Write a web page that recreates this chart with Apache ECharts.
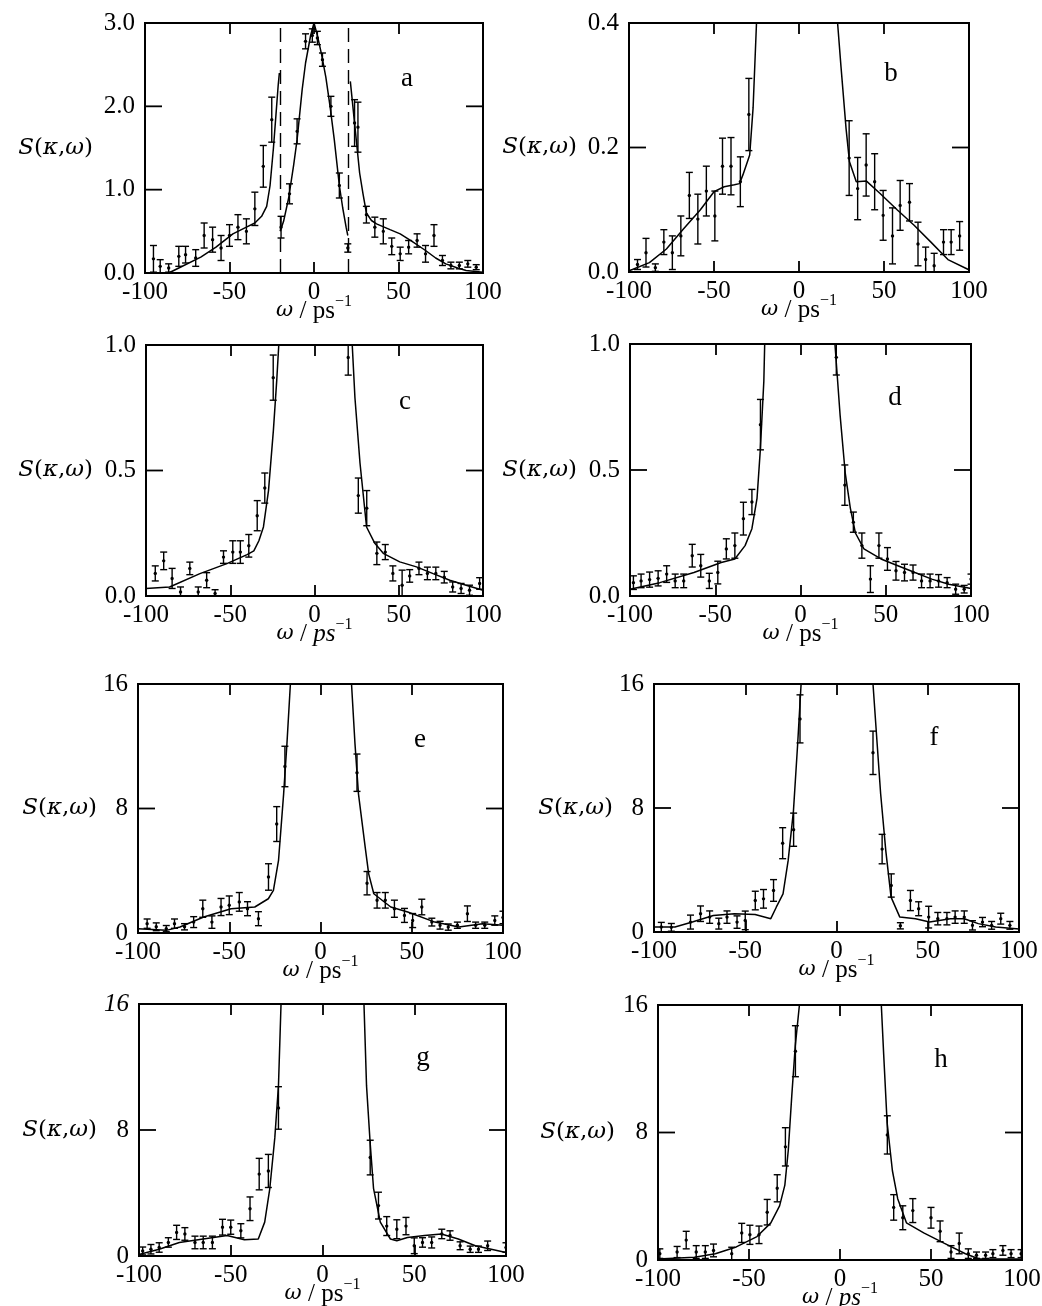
<!DOCTYPE html>
<html><head><meta charset="utf-8">
<script src="https://cdn.jsdelivr.net/npm/echarts@6/dist/echarts.min.js"></script>
<style>html,body{margin:0;padding:0;background:#fff}#c{width:1042px;height:1306px}</style>
</head><body><div id="c"></div>
<script>
// ---------- data (x = ω in ps^-1, y = S(κ,ω)); bars are [x, y, halfError] ----------
const xTicks = [-100, -50, 0, 50, 100];
const panelLetters = ['a','b','c','d','e','f','g','h'];
const yMax = [3, 0.4, 1, 1, 16, 16, 16, 16];
const yStep = [1, 0.2, 0.5, 0.5, 8, 8, 8, 8];
const yDecimals = [1, 1, 1, 1, 0, 0, 0, 0];

const aWingL = [[-86,0],[-80,0.06],[-67,0.19],[-58,0.31],[-48,0.47],[-40,0.55],[-35,0.6],[-31,0.68],[-28,0.8],[-26,1.05],[-24,1.5],[-22.5,1.9],[-21.2,2.25],[-20.5,2.4]];
const aCenter = [[-20,0.5],[-18,0.62],[-15,0.9],[-12,1.3],[-10,1.6],[-7,2.2],[-5,2.52],[-2,2.85],[0,3.0],[2,2.85],[4.5,2.62],[7,2.35],[9.5,2.0],[12,1.6],[15,1.05],[17,0.78],[19,0.55],[20,0.45]];
const aWingR = [[21.5,2.3],[23,2.0],[25,1.6],[27,1.2],[29,0.95],[31,0.72],[34,0.63],[37,0.59],[45,0.52],[51,0.47],[58,0.38],[66,0.27],[72,0.18],[78,0.11],[85,0.06],[90,0.03],[100,0.01]];
const aDashX = [-20, 20];
const aBars = [[-95,0.17,0.16],[-91,0.08,0.08],[-86,0.06,0.05],[-80,0.2,0.12],[-76,0.22,0.1],[-70,0.18,0.1],[-65,0.45,0.15],[-60,0.4,0.15],[-55,0.3,0.15],[-50,0.45,0.13],[-45,0.55,0.15],[-40,0.5,0.15],[-35,0.77,0.2],[-30,1.28,0.25],[-25,1.84,0.27],[-19.5,0.55,0.13],[-14.5,0.95,0.12],[-10,1.7,0.15],[-5,2.78,0.09],[-1,2.85,0.08],[2,2.82,0.08],[5,2.56,0.08],[10,2.0,0.12],[15,1.05,0.15],[20,0.3,0.05],[24,1.8,0.28],[26,1.75,0.3],[31,0.7,0.1],[36,0.55,0.12],[41,0.5,0.15],[46,0.32,0.1],[51,0.23,0.08],[56,0.31,0.08],[61,0.39,0.08],[66,0.23,0.1],[71,0.45,0.13],[76,0.15,0.06],[81,0.09,0.04],[86,0.09,0.04],[91,0.11,0.04],[96,0.07,0.03]];

const bCurveL = [[-100,0.002],[-98,0.004],[-88,0.015],[-78,0.037],[-68,0.069],[-58,0.10],[-50,0.129],[-44,0.137],[-38,0.14],[-35,0.142],[-33,0.156],[-29,0.188],[-27,0.264],[-25,0.4],[-24,0.5]];
const bCurveR = [[22,0.5],[22.7,0.4],[24.7,0.33],[27.7,0.23],[29.7,0.177],[33.7,0.145],[39.7,0.146],[47.7,0.126],[57.7,0.1],[67.7,0.075],[77.6,0.048],[87.6,0.02],[99.6,0.004]];
const bBars = [[-95,0.012,0.008],[-90,0.031,0.023],[-84.5,0.007,0.006],[-79.5,0.048,0.02],[-74.5,0.031,0.027],[-69.5,0.058,0.032],[-64.5,0.123,0.037],[-59.5,0.085,0.04],[-54.5,0.13,0.04],[-49.5,0.09,0.04],[-45,0.17,0.045],[-40,0.17,0.046],[-34.5,0.145,0.04],[-29.5,0.253,0.058],[29.5,0.183,0.06],[34.5,0.134,0.05],[39.5,0.172,0.05],[44.5,0.145,0.045],[49.5,0.091,0.04],[55,0.058,0.045],[59.5,0.107,0.04],[65,0.112,0.03],[70,0.045,0.035],[74.5,0.02,0.02],[79.5,0.01,0.02],[85,0.048,0.02],[89.5,0.048,0.02],[94.5,0.058,0.023]];

const cCurveL = [[-100,0.03],[-86,0.036],[-68,0.089],[-52,0.129],[-40,0.165],[-36,0.18],[-33,0.22],[-30.3,0.275],[-27.3,0.42],[-24.4,0.66],[-22.4,0.86],[-21.2,1.0],[-20.5,1.1]];
const cCurveR = [[21.5,1.1],[22.4,1.0],[24,0.79],[27,0.53],[30.9,0.275],[35.8,0.21],[40.8,0.17],[50.6,0.136],[60.5,0.116],[70.4,0.089],[80.3,0.063],[90,0.043],[100,0.023]];
const cBars = [[-94.5,0.09,0.03],[-89.5,0.14,0.035],[-84.5,0.07,0.04],[-79.5,0.016,0.02],[-74,0.11,0.025],[-69,0.016,0.02],[-64,0.063,0.03],[-59,0.01,0.015],[-54,0.155,0.025],[-48.5,0.175,0.045],[-44,0.175,0.045],[-39,0.2,0.045],[-34,0.32,0.06],[-29.5,0.43,0.06],[-24.5,0.87,0.09],[20,0.95,0.07],[26,0.4,0.07],[31,0.35,0.07],[37,0.17,0.045],[42,0.175,0.03],[46.5,0.09,0.03],[52,0.043,0.06],[56.5,0.08,0.025],[62,0.11,0.025],[67,0.09,0.025],[72,0.09,0.025],[77,0.075,0.023],[82,0.036,0.02],[87,0.03,0.02],[92,0.023,0.02],[98,0.05,0.023]];

const dCurveL = [[-100,0.027],[-82.5,0.053],[-62.5,0.093],[-46.5,0.133],[-38.5,0.147],[-32.5,0.2],[-28.5,0.267],[-25.5,0.387],[-23.5,0.587],[-21.5,0.853],[-21,1.0],[-20.5,1.1]];
const dCurveR = [[19.8,1.1],[20.2,1.0],[23.2,0.72],[26.2,0.49],[29.2,0.35],[32.2,0.25],[37.2,0.187],[47.2,0.147],[57.1,0.12],[67.1,0.093],[77,0.067],[87,0.047],[100,0.03]];
const dBars = [[-98,0.053,0.027],[-93.5,0.06,0.027],[-88.5,0.065,0.03],[-83.5,0.07,0.03],[-78.5,0.087,0.033],[-73.5,0.06,0.027],[-68.5,0.06,0.027],[-63.5,0.16,0.045],[-58.5,0.12,0.045],[-53.5,0.06,0.03],[-48.5,0.093,0.045],[-43.5,0.187,0.04],[-38.5,0.2,0.05],[-33.5,0.307,0.065],[-28.5,0.373,0.05],[-23.5,0.68,0.1],[21,0.947,0.07],[26,0.44,0.08],[31,0.293,0.04],[36,0.2,0.05],[41,0.067,0.053],[46,0.2,0.05],[51,0.147,0.045],[56,0.1,0.037],[61,0.093,0.033],[66,0.093,0.03],[71,0.06,0.027],[76,0.06,0.027],[81,0.06,0.025],[86,0.053,0.02],[91,0.027,0.02],[96,0.027,0.015],[100,0.067,0.02]];

const eCurveL = [[-100,0.28],[-84.5,0.17],[-77,0.385],[-64,1.03],[-49,1.56],[-36,1.67],[-28.6,2.2],[-25.8,2.74],[-23,4.66],[-20.2,8.94],[-18.4,12.15],[-16.5,16],[-16,17]];
const eCurveR = [[16.5,17],[17,16],[18.9,12.15],[20.8,8.94],[24.5,5.5],[26.4,3.8],[29.2,2.52],[38.5,1.67],[47.8,1.35],[62.7,0.7],[75.8,0.385],[88.8,0.6],[100,0.5]];
const eBars = [[-95,0.6,0.3],[-90,0.4,0.25],[-84.5,0.28,0.2],[-80,0.6,0.3],[-74.5,0.4,0.2],[-69.5,0.7,0.35],[-64.5,1.56,0.55],[-59.5,0.7,0.4],[-54.5,1.67,0.55],[-50,1.78,0.6],[-44.5,2.0,0.6],[-40,1.56,0.45],[-34,0.92,0.45],[-28.5,3.6,0.85],[-24,7.0,1.12],[-19.5,10.7,1.3],[20,10.3,1.2],[25.5,3.2,0.75],[31,2.1,0.5],[35.5,2.1,0.5],[40.5,1.56,0.55],[46,1.13,0.45],[50.5,0.8,0.45],[55.5,1.67,0.5],[61,0.7,0.25],[65.5,0.5,0.25],[70,0.38,0.2],[75,0.5,0.2],[80.5,1.24,0.5],[85,0.5,0.2],[90,0.5,0.2],[95.5,0.8,0.3],[100,1.0,0.4]];

const fCurveL = [[-100,0.32],[-88.5,0.32],[-79,0.64],[-67.5,1.07],[-56,1.18],[-44.6,1.13],[-36,0.86],[-33,1.6],[-29.3,2.46],[-26.5,4.6],[-23.6,7.8],[-21.3,12.1],[-19.4,16],[-19,17]];
const fCurveR = [[19.7,17],[20,16],[22.3,12.1],[24.2,8.9],[27,5.25],[29.9,2.25],[34.7,0.96],[43.3,0.86],[51,0.64],[62.4,0.86],[70,0.86],[77.7,0.54],[87.2,0.32],[100,0.2]];
const fBars = [[-96,0.32,0.3],[-90.5,0.3,0.25],[-80,0.64,0.45],[-74.5,1.18,0.5],[-69.5,0.96,0.4],[-64.5,0.54,0.35],[-60,0.96,0.4],[-54.5,0.64,0.4],[-50,0.75,0.6],[-44.5,2.03,0.6],[-40,2.14,0.6],[-34.5,2.68,0.7],[-29.5,5.73,1.0],[-23.5,6.6,1.07],[-20,13.75,1.55],[20,11.56,1.4],[25,5.35,0.95],[30,3.0,0.75],[35,0.4,0.2],[40.5,2.03,0.65],[45,1.5,0.45],[50.5,0.96,0.7],[55.5,0.86,0.4],[60.5,0.86,0.4],[65,0.96,0.4],[70,0.96,0.4],[74.5,0.43,0.3],[80,0.64,0.3],[85,0.43,0.25],[90,0.86,0.35],[95,0.43,0.25]];

const gCurveL = [[-100,0.1],[-89,0.43],[-78,0.86],[-65,1.08],[-52,1.3],[-42.6,1.03],[-35,1.08],[-31.5,2.15],[-28.7,4.3],[-26,7.5],[-24,10.8],[-22.6,16],[-22.3,17]];
const gCurveR = [[22.3,17],[22.6,16],[24,10.8],[25.9,7.3],[27.8,4.3],[31.5,2.15],[37,1.08],[40.5,0.97],[46.3,1.18],[55.6,1.3],[64.8,1.4],[74,1.08],[83.3,0.65],[100,0.22]];
const gBars = [[-98,0.32,0.25],[-93.5,0.43,0.3],[-89,0.54,0.3],[-84,0.86,0.3],[-79.5,1.5,0.45],[-75,1.4,0.4],[-69.5,0.86,0.4],[-65,0.86,0.4],[-60,0.86,0.4],[-54.5,1.83,0.5],[-50,1.83,0.45],[-44.5,1.6,0.45],[-39.5,3.0,0.75],[-34.5,5.2,1.0],[-29.5,5.4,1.05],[-24,9.4,1.35],[26,6.25,1.1],[30.5,3.2,0.85],[35,1.9,0.6],[40.5,1.7,0.6],[45.5,1.9,0.55],[50,0.65,0.5],[54.5,0.86,0.3],[59.5,0.86,0.35],[65,1.4,0.3],[69.5,1.3,0.3],[75,0.65,0.25],[80.5,0.43,0.2],[85,0.43,0.2],[90,0.65,0.3],[100,0.54,0.3]];

const hCurveL = [[-100,0.06],[-80,0.17],[-68.5,0.39],[-57,0.82],[-45.6,1.47],[-38,2.33],[-33.2,3.4],[-30.3,4.7],[-28.4,6.9],[-26.5,10.3],[-24.6,13.4],[-22.3,16],[-22,17]];
const hCurveR = [[22.5,17],[22.7,16],[24,12.9],[25.9,8.6],[28.8,5.6],[31.7,3.85],[36.5,2.33],[46,1.7],[57.4,1.04],[68.9,0.39],[76.5,0.06],[100,0.06]];
const hBars = [[-99,0.4,0.3],[-89.5,0.5,0.35],[-84.5,1.25,0.55],[-79,0.5,0.4],[-74,0.5,0.4],[-69.5,0.6,0.4],[-59.5,0.4,0.4],[-54,1.7,0.6],[-49.5,1.58,0.6],[-44.5,1.58,0.55],[-40,3.0,0.8],[-34.5,4.5,0.85],[-30,7.1,1.2],[-24.5,13.1,1.6],[26,7.85,1.2],[29.5,3.3,0.8],[34.5,2.65,0.75],[40,3.1,0.75],[50,2.65,0.65],[55,1.8,0.65],[61,0.5,0.4],[65.5,1.04,0.65],[70.5,0.4,0.3],[75,0.3,0.2],[80,0.3,0.2],[84,0.4,0.25],[89.5,0.6,0.3],[94,0.4,0.25],[99.5,0.4,0.25]];

const panelCurves = [[aWingL,aCenter,aWingR],[bCurveL,bCurveR],[cCurveL,cCurveR],[dCurveL,dCurveR],[eCurveL,eCurveR],[fCurveL,fCurveR],[gCurveL,gCurveR],[hCurveL,hCurveR]];
const panelBars = [aBars,bBars,cBars,dBars,eBars,fBars,gBars,hBars];

// ---------- layout (pixels) ----------
const layout = [
  {left:145, top:23,  width:338, height:250, nameGap:52, letter:[407,79],  psItalic:false, topItalic:false},
  {left:629, top:23,  width:340, height:249, nameGap:52, letter:[891,74],  psItalic:false, topItalic:false},
  {left:146, top:345, width:337, height:251, nameGap:53, letter:[405,402], psItalic:true,  topItalic:false},
  {left:630, top:344, width:341, height:252, nameGap:53, letter:[895,398], psItalic:false, topItalic:false},
  {left:138, top:684, width:365, height:249, nameGap:41, letter:[420,740], psItalic:false, topItalic:false},
  {left:654, top:684, width:365, height:248, nameGap:41, letter:[934,738], psItalic:false, topItalic:false},
  {left:139, top:1004,width:367, height:252, nameGap:42, letter:[423,1058],psItalic:false, topItalic:true},
  {left:658, top:1005,width:364, height:255, nameGap:43, letter:[941,1060],psItalic:true,  topItalic:false}
];
const X_TICK_LEN = 11, Y_TICK_LEN = 17;

const SERIF = 'Liberation Serif';
const grids = [], xAxes = [], yAxes = [], series = [], graphics = [];
const AXLINE = {show:true, onZero:false, lineStyle:{color:'#000', width:2}};

function barRenderer(params, api) {
  const x = api.value(0), y = api.value(1), e = api.value(2);
  const t = api.coord([x, y + e]), b = api.coord([x, y - e]), c = api.coord([x, y]);
  const w = 3.5;
  const st = {stroke:'#000', lineWidth:1.4};
  return {type:'group', children:[
    {type:'line', shape:{x1:t[0], y1:t[1], x2:b[0], y2:b[1]}, style:st},
    {type:'line', shape:{x1:t[0]-w, y1:t[1], x2:t[0]+w, y2:t[1]}, style:st},
    {type:'line', shape:{x1:b[0]-w, y1:b[1], x2:b[0]+w, y2:b[1]}, style:st},
    {type:'circle', shape:{cx:c[0], cy:c[1], r:1.7}, style:{fill:'#000'}}
  ]};
}

// inward y ticks at left & right; item = [anchorX, anchorY, tickValue]
function makeYTickRenderer(i) {
  return function (params, api) {
    const v = api.value(2);
    const st = {stroke:'#000', lineWidth:1.8};
    const l = api.coord([xTicks[0], v]), r = api.coord([xTicks[xTicks.length-1], v]);
    return {type:'group', children:[
      {type:'line', shape:{x1:l[0], y1:l[1], x2:l[0]+Y_TICK_LEN, y2:l[1]}, style:st},
      {type:'line', shape:{x1:r[0], y1:r[1], x2:r[0]-Y_TICK_LEN, y2:r[1]}, style:st}]};
  };
}

layout.forEach((L, i) => {
  grids.push({left:L.left, top:L.top, width:L.width, height:L.height, show:true,
    borderColor:'#000', borderWidth:2, backgroundColor:'transparent',
    containLabel:false, outerBoundsMode:'none'});
  // the x split lines are dashed so that only a short inward stub shows at the top and the bottom
  const tickDash = [X_TICK_LEN, L.height - 2 * X_TICK_LEN, X_TICK_LEN, 2000];
  const xBase = {type:'value', gridIndex:i, min:xTicks[0], max:xTicks[xTicks.length-1], interval:50,
    axisLine:AXLINE, axisTick:{show:false}};
  xAxes.push(Object.assign({}, xBase, {position:'bottom',
    splitLine:{show:true, lineStyle:{color:'#000', width:1.8, type:tickDash, cap:'butt'}},
    axisLabel:{show:true, color:'#000', fontFamily:SERIF, fontSize:25, margin:7},
    name:'{w|ω}{p| / }' + (L.psItalic ? '{pi|ps}' : '{p|ps}') + '{s|−1}',
    nameLocation:'middle', nameGap:21, nameMoveOverlap:false,
    nameTextStyle:{color:'#000', rich:{
      w:{fontFamily:'DejaVu Serif', fontStyle:'italic', fontSize:21, lineHeight:34, color:'#000'},
      p:{fontFamily:SERIF, fontSize:25, lineHeight:34, color:'#000'},
      pi:{fontFamily:SERIF, fontStyle:'italic', fontSize:25, lineHeight:34, color:'#000'},
      s:{fontFamily:SERIF, fontSize:16, lineHeight:14, verticalAlign:'top', color:'#000'}
    }}}));
  xAxes.push(Object.assign({}, xBase, {position:'top', splitLine:{show:false}, axisLabel:{show:false}}));
  const yBase = {type:'value', gridIndex:i, min:0, max:yMax[i], interval:yStep[i],
    axisLine:AXLINE, splitLine:{show:false}, axisTick:{show:false}};
  yAxes.push(Object.assign({}, yBase, {position:'left',
    axisLabel:{show:true, color:'#000', fontFamily:SERIF, fontSize:25, margin:10,
      formatter:(v) => {
        const s = Number(v).toFixed(yDecimals[i]);
        return (L.topItalic && v === yMax[i]) ? '{it|' + s + '}' : s;
      },
      rich:{it:{fontFamily:SERIF, fontStyle:'italic', fontSize:25, color:'#000'}}},
    name:'{i|S}{r|(}{i|κ}{r|,}{i|ω}{r|)}', nameLocation:'middle', nameRotate:0, nameGap:L.nameGap,
    nameMoveOverlap:false,
    nameTextStyle:{color:'#000', rich:{
      i:{fontFamily:'DejaVu Serif', fontStyle:'italic', fontSize:23, color:'#000'},
      r:{fontFamily:'DejaVu Serif', fontSize:23, color:'#000'}
    }}}));
  yAxes.push(Object.assign({}, yBase, {position:'right', axisLabel:{show:false}}));

  panelCurves[i].forEach((seg, k) => {
    const s = {type:'line', xAxisIndex:2*i, yAxisIndex:2*i, data:seg, symbol:'none', clip:true,
      lineStyle:{color:'#000', width:1.5}, silent:true, animation:false};
    if (i === 0 && k === 1) {
      s.markLine = {symbol:['none','none'], silent:true, animation:false, label:{show:false},
        lineStyle:{color:'#000', width:1.4, type:[14,7]},
        data: aDashX.map(v => ({xAxis:v}))};
    }
    series.push(s);
  });
  series.push({type:'custom', xAxisIndex:2*i, yAxisIndex:2*i, data:panelBars[i], clip:true,
    encode:{x:0, y:1}, renderItem:barRenderer, silent:true, animation:false});

  const yTickData = [];
  const anchorY = yMax[i] / 2;
  for (let k = 1; k * yStep[i] < yMax[i] - 1e-9; k++) yTickData.push([10, anchorY, k * yStep[i]]);
  series.push({type:'custom', xAxisIndex:2*i, yAxisIndex:2*i, data:yTickData, clip:false,
    dimensions:['ax','ay','val'], encode:{x:0, y:1},
    renderItem:makeYTickRenderer(i), silent:true, animation:false, z:5});

  graphics.push({type:'text', x:L.letter[0], y:L.letter[1],
    style:{text:panelLetters[i], fontFamily:SERIF, fontSize:27, fill:'#000',
      textAlign:'center', textVerticalAlign:'middle'}});
});

const chart = echarts.init(document.getElementById('c'), null, {renderer:'canvas'});
chart.setOption({animation:false, backgroundColor:'#fff', grid:grids, xAxis:xAxes, yAxis:yAxes,
  series:series, graphic:graphics});
</script></body></html>
